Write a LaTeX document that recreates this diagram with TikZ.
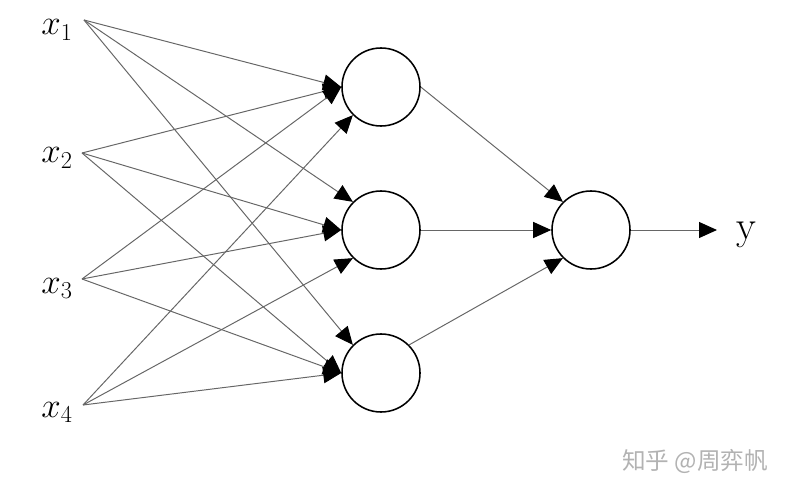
\documentclass[tikz,border=0pt]{standalone}
\usepackage{fontspec}
\newfontfamily\cjkfont{Noto Sans CJK SC}
\usetikzlibrary{arrows.meta}

\begin{document}
\begin{tikzpicture}[x=0.025cm, y=-0.025cm,
  neuron/.style={circle, draw=black, line width=1.1pt, minimum size=1.95cm, inner sep=0pt},
  arr/.style={-{Triangle[length=0.45cm, width=0.4cm, color=black]}, draw=black!60, line width=0.7pt},
  inlab/.style={anchor=base east, inner sep=0pt, font=\fontsize{27}{32}\selectfont}]
\useasboundingbox (0,0) rectangle (789,492);
\coordinate (i1) at (84,20);
\coordinate (i2) at (82,153);
\coordinate (i3) at (82,279);
\coordinate (i4) at (83,405);
\node[inlab] (x1) at (73,35) {$x_1$};
\node[inlab] (x2) at (73,163) {$x_2$};
\node[inlab] (x3) at (73,293) {$x_3$};
\node[inlab] (x4) at (73,417) {$x_4$};
\node[neuron] (h1) at (381,87) {};
\node[neuron] (h2) at (381,230) {};
\node[neuron] (h3) at (381,373) {};
\node[neuron] (out) at (591,230) {};
\foreach \s/\t in {i1/h1.west, i2/h1.west, i3/h1.west, i4/h1.south west,
                   i1/h2.north west, i2/h2.west, i3/h2.west, i4/h2.south west,
                   i1/h3.north west, i2/h3.west, i3/h3.west, i4/h3.west}
  \draw[arr] (\s) -- (\t);
\draw[arr] (h1.east) -- (out.north west);
\draw[arr] (h2.east) -- (out.west);
\draw[arr] (h3.north east) -- (out.south west);
\coordinate (yend) at (717,230);
\draw[arr] (out.east) -- (yend);
\node[anchor=base west, inner sep=0pt, font=\fontsize{29}{34}\selectfont] (ylab) at (736,239) {y};
\node[font=\cjkfont\fontsize{16.8}{20}\selectfont, text=black!30] (mark) at (695,461) {知乎 @周弈帆};
\end{tikzpicture}
\end{document}
